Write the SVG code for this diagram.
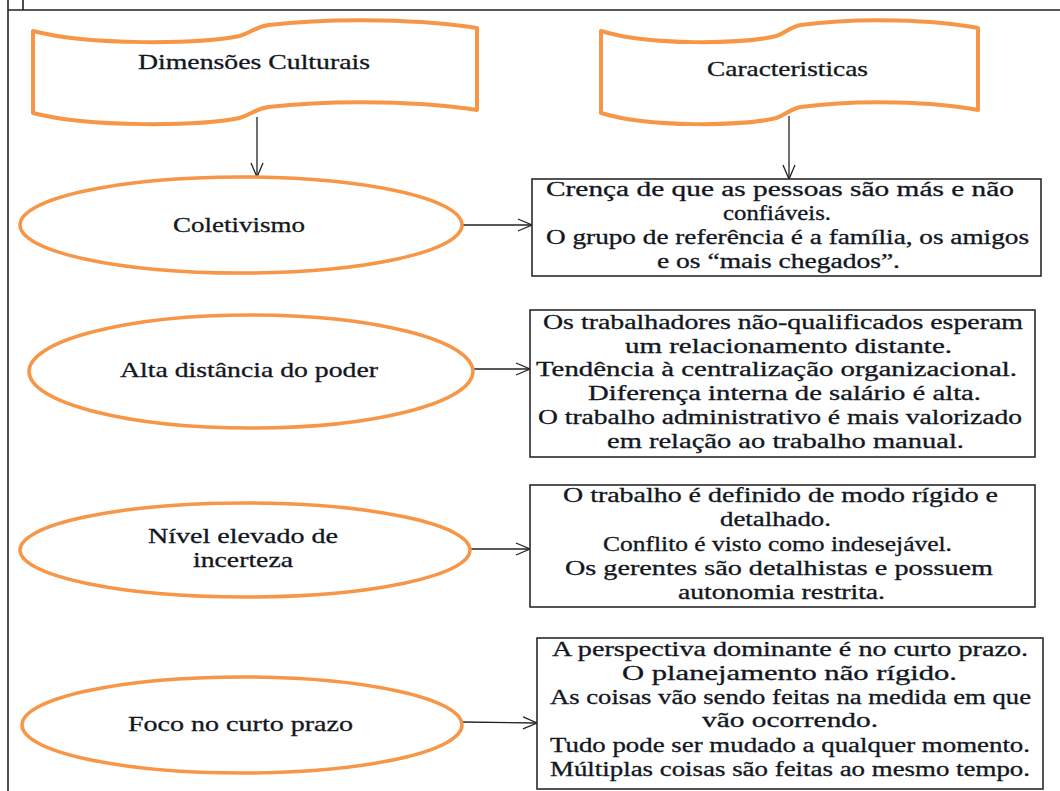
<svg xmlns="http://www.w3.org/2000/svg" width="1060" height="791" viewBox="0 0 1060 791">
<defs>
<marker id="arr" markerUnits="userSpaceOnUse" markerWidth="18" markerHeight="16" refX="16" refY="8" orient="auto">
<path d="M2,2 L16,8 L2,14" fill="none" stroke="#222" stroke-width="1.3"/>
</marker>
<style>
.banner{fill:#fff;stroke:#F79646;stroke-width:4;stroke-linejoin:round}
.ell{fill:#fff;stroke:#F79646;stroke-width:3.5}
.box{fill:#fff;stroke:#2a2a2a;stroke-width:1.6}
.frame{stroke:#222;stroke-width:1.6;fill:none}
.conn{stroke:#222;stroke-width:1.3;fill:none;marker-end:url(#arr)}
.t20{font-size:20px;fill:#121722;stroke:#121722;stroke-width:0.3}
.t21{font-size:21px;fill:#121722;stroke:#121722;stroke-width:0.3}
</style>
</defs>
<rect width="1060" height="791" fill="#fff"/>
<g id="frame">
<line class="frame" x1="8" y1="10" x2="1060" y2="10"/>
<line class="frame" x1="8" y1="0" x2="8" y2="791"/>
<line class="frame" x1="23" y1="0" x2="23" y2="10"/>
</g>
<g font-family="'Liberation Serif', 'Times New Roman', Tinos, 'DejaVu Serif', serif">
<g id="banner-dimensoes">
<path class="banner" d="M33,31 C90.7,46 199.5,44 239.5,36 C250.6,33 255,27 268.3,25 C339.4,17 428.2,20 477,28 L477,110 C428.2,102 339.4,99 268.3,107 C255,109 250.6,115 239.5,118 C199.5,126 90.7,128 33,113 Z"/>
<text class="t21" x="138" y="69" textLength="232" lengthAdjust="spacingAndGlyphs">Dimensões Culturais</text>
</g>
<g id="banner-caracteristicas">
<path class="banner" d="M601,31 C650,46 742.4,44 776.3,36 C785.7,33 789.5,27 800.8,25 C861,17 936.5,20 978,28 L978,110 C936.5,102 861,99 800.8,107 C789.5,109 785.7,115 776.3,118 C742.4,126 650,128 601,113 Z"/>
<text class="t21" x="707" y="76" textLength="161" lengthAdjust="spacingAndGlyphs">Caracteristicas</text>
</g>
<g id="connectors">
<line class="conn" x1="257" y1="117" x2="257" y2="177"/>
<line class="conn" x1="789" y1="116" x2="789" y2="179"/>
<line class="conn" x1="461" y1="225" x2="532" y2="225"/>
<line class="conn" x1="473" y1="369" x2="530" y2="369"/>
<line class="conn" x1="470" y1="549" x2="530" y2="549"/>
<line class="conn" x1="462" y1="722" x2="537" y2="723"/>
</g>
<g id="dim-coletivismo">
<ellipse class="ell" cx="241" cy="225" rx="221" ry="48"/>
<text class="t21" x="173" y="232" textLength="132" lengthAdjust="spacingAndGlyphs">Coletivismo</text>
</g>
<g id="dim-distancia">
<ellipse class="ell" cx="251" cy="371.5" rx="222" ry="56.5"/>
<text class="t21" x="120" y="377" textLength="258" lengthAdjust="spacingAndGlyphs">Alta distância do poder</text>
</g>
<g id="dim-incerteza">
<ellipse class="ell" cx="245" cy="550" rx="225" ry="47"/>
<text class="t21" x="148" y="543" textLength="190" lengthAdjust="spacingAndGlyphs">Nível elevado de</text>
<text class="t21" x="193" y="567" textLength="100" lengthAdjust="spacingAndGlyphs">incerteza</text>
</g>
<g id="dim-curto-prazo">
<ellipse class="ell" cx="242" cy="725" rx="220" ry="48"/>
<text class="t21" x="128" y="731" textLength="225" lengthAdjust="spacingAndGlyphs">Foco no curto prazo</text>
</g>
<g id="car-coletivismo">
<rect class="box" x="532" y="179" width="509" height="97"/>
<text class="t20" x="546" y="196" textLength="468" lengthAdjust="spacingAndGlyphs">Crença de que as pessoas são más e não</text>
<text class="t20" x="723" y="220" textLength="108" lengthAdjust="spacingAndGlyphs">confiáveis.</text>
<text class="t20" x="546" y="244" textLength="483" lengthAdjust="spacingAndGlyphs">O grupo de referência é a família, os amigos</text>
<text class="t20" x="657" y="268" textLength="243" lengthAdjust="spacingAndGlyphs">e os “mais chegados”.</text>
</g>
<g id="car-distancia">
<rect class="box" x="530" y="310" width="505" height="147"/>
<text class="t20" x="543" y="329" textLength="480" lengthAdjust="spacingAndGlyphs">Os trabalhadores não-qualificados esperam</text>
<text class="t20" x="625" y="353" textLength="327" lengthAdjust="spacingAndGlyphs">um relacionamento distante.</text>
<text class="t20" x="536" y="376" textLength="481" lengthAdjust="spacingAndGlyphs">Tendência à centralização organizacional.</text>
<text class="t20" x="588" y="400" textLength="393" lengthAdjust="spacingAndGlyphs">Diferença interna de salário é alta.</text>
<text class="t20" x="538" y="424" textLength="484" lengthAdjust="spacingAndGlyphs">O trabalho administrativo é mais valorizado</text>
<text class="t20" x="607" y="448" textLength="357" lengthAdjust="spacingAndGlyphs">em relação ao trabalho manual.</text>
</g>
<g id="car-incerteza">
<rect class="box" x="530" y="485" width="505" height="122"/>
<text class="t20" x="563" y="502" textLength="435" lengthAdjust="spacingAndGlyphs">O trabalho é definido de modo rígido e</text>
<text class="t20" x="720" y="526" textLength="111" lengthAdjust="spacingAndGlyphs">detalhado.</text>
<text class="t20" x="603" y="551" textLength="349" lengthAdjust="spacingAndGlyphs">Conflito é visto como indesejável.</text>
<text class="t20" x="565" y="575" textLength="428" lengthAdjust="spacingAndGlyphs">Os gerentes são detalhistas e possuem</text>
<text class="t20" x="678" y="599" textLength="207" lengthAdjust="spacingAndGlyphs">autonomia restrita.</text>
</g>
<g id="car-curto-prazo">
<rect class="box" x="537" y="638" width="506" height="151"/>
<text class="t20" x="552" y="656" textLength="476" lengthAdjust="spacingAndGlyphs">A perspectiva dominante é no curto prazo.</text>
<text class="t20" x="622" y="680" textLength="335" lengthAdjust="spacingAndGlyphs">O planejamento não rígido.</text>
<text class="t20" x="550" y="704" textLength="481" lengthAdjust="spacingAndGlyphs">As coisas vão sendo feitas na medida em que</text>
<text class="t20" x="702" y="727" textLength="176" lengthAdjust="spacingAndGlyphs">vão ocorrendo.</text>
<text class="t20" x="550" y="752" textLength="480" lengthAdjust="spacingAndGlyphs">Tudo pode ser mudado a qualquer momento.</text>
<text class="t20" x="550" y="776" textLength="480" lengthAdjust="spacingAndGlyphs">Múltiplas coisas são feitas ao mesmo tempo.</text>
</g>
</g>
</svg>
